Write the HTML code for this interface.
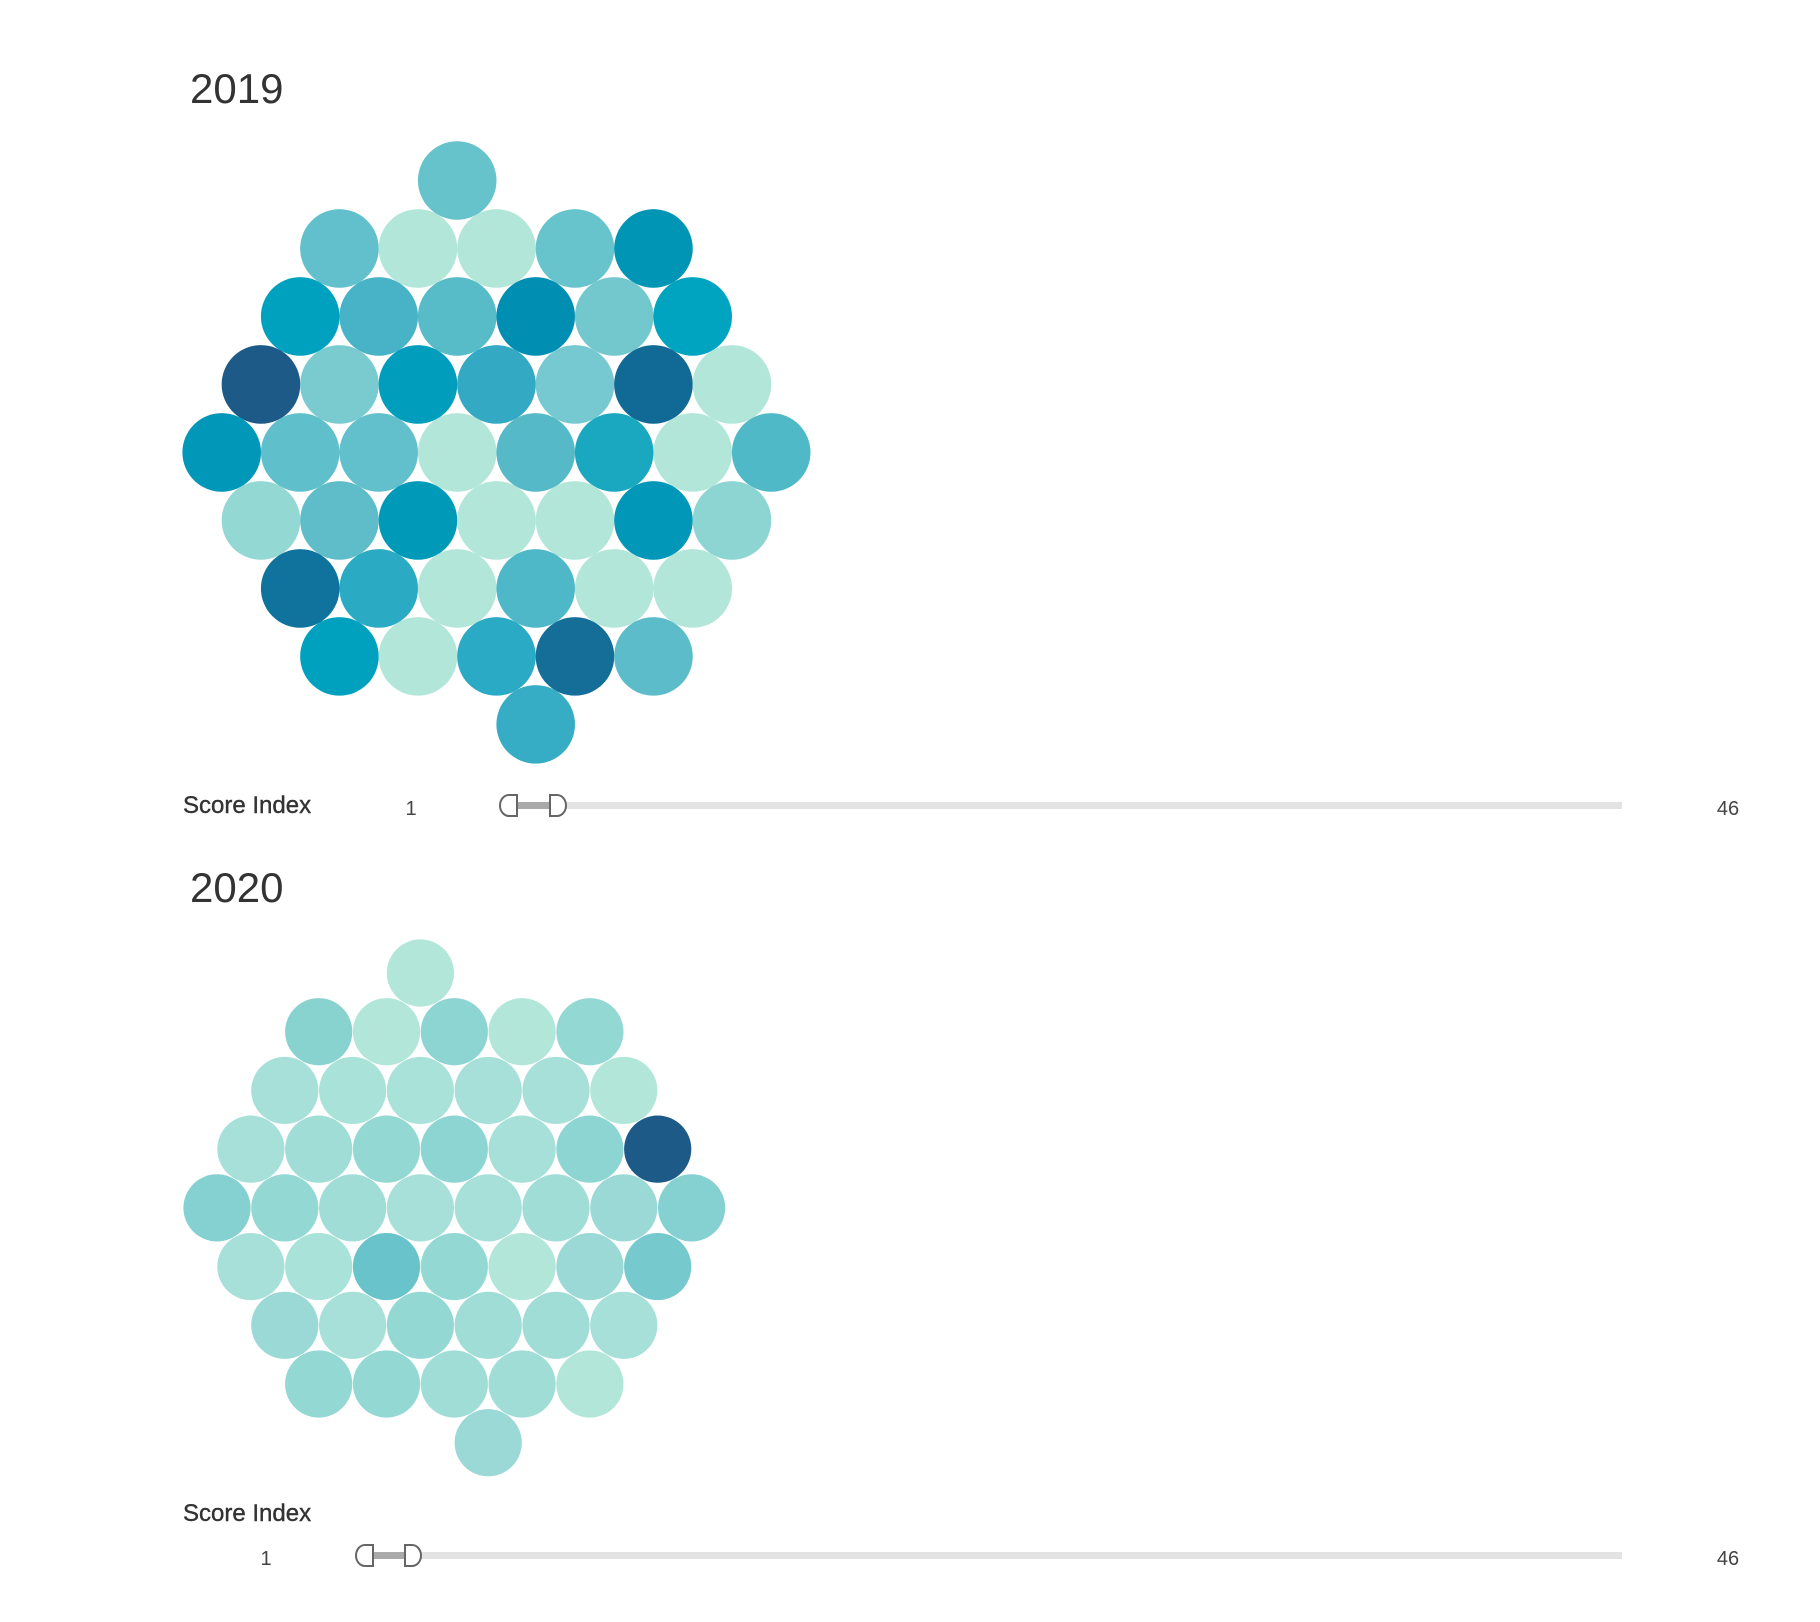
<!DOCTYPE html>
<html><head><meta charset="utf-8"><style>
body{margin:0;background:#fff;width:1820px;height:1622px;overflow:hidden;font-family:"Liberation Sans",sans-serif;}
svg{position:absolute;left:0;top:0}
</style></head><body>
<svg id="chart" width="1820" height="1622">
<text x="190" y="103" font-size="42" fill="#333">2019</text>
<text x="190" y="902" font-size="42" fill="#333">2020</text>
<g id="p2019"></g>
<g id="p2020"></g>
<text x="183" y="813" font-size="24" fill="#333" stroke="#333" stroke-width="0.4">Score Index</text>
<text x="411" y="815" font-size="20" fill="#444" text-anchor="middle">1</text>
<text x="1728" y="815" font-size="20" fill="#444" text-anchor="middle">46</text>
<rect x="505" y="802" width="1117" height="7" fill="#e3e3e3"/>
<rect x="515" y="802" width="42" height="7" fill="#aaa"/>
<path d="M517 795 h-8 a9 10.5 0 0 0 0 21 h8 z" fill="#fff" stroke="#666" stroke-width="2"/>
<path d="M550 795 h7 a9 10.5 0 0 1 0 21 h-7 z" fill="#fff" stroke="#666" stroke-width="2"/>
<text x="183" y="1521" font-size="24" fill="#333" stroke="#333" stroke-width="0.4">Score Index</text>
<text x="266" y="1565" font-size="20" fill="#444" text-anchor="middle">1</text>
<text x="1728" y="1565" font-size="20" fill="#444" text-anchor="middle">46</text>
<rect x="362" y="1552" width="1260" height="7" fill="#e3e3e3"/>
<rect x="372" y="1552" width="40" height="7" fill="#aaa"/>
<path d="M373 1545 h-8 a9 10.5 0 0 0 0 21 h8 z" fill="#fff" stroke="#666" stroke-width="2"/>
<path d="M405 1545 h7 a9 10.5 0 0 1 0 21 h-7 z" fill="#fff" stroke="#666" stroke-width="2"/>
</svg>
<script>
// row sizes of the hex layout and per-row start offset (half-steps)
const rowCounts = [1,5,6,7,8,7,6,5,1];
const rowStarts = [6,3,2,1,0,1,2,3,8];
// colour per bubble (score), row by row
const colors2019 = [
 "#66c3cb",
 "#62bfcc","#b2e6d9","#b2e6d9","#68c4cc","#0095b5",
 "#00a0bf","#48b3c7","#57bbc8","#008fb2","#72c8cc","#00a3c0",
 "#1d5a88","#7acbd0","#009dbd","#33a9c4","#76c9d0","#116996","#b2e6d9",
 "#0097b8","#5fbfcb","#62c0cc","#b2e6d9","#56b9c8","#1aa8c0","#b2e6d9","#50b9c8",
 "#94d8d4","#5fbdc9","#009ab9","#b2e6d9","#b2e6d9","#0097b8","#8dd5d3",
 "#0f739d","#2aaac3","#b2e6d9","#4fb8c8","#b2e6d9","#b2e6d9",
 "#00a1bf","#b2e6d9","#2aaac4","#146e98","#5cbcca",
 "#36adc4"];
const colors2020 = [
 "#b2e6d9",
 "#88d3d0","#b2e6d9","#8dd5d2","#b2e6d9","#94d8d4",
 "#a6e0d8","#a9e2d8","#a9e2d8","#a6e0d8","#a6e0d8","#b2e6d9",
 "#a6e0d8","#a0ddd6","#94d8d4","#8dd5d2","#a6e0d8","#8dd5d2","#1d5a88",
 "#85d0d0","#94d8d4","#a0ddd6","#a6e0d8","#a6e0d8","#a0ddd6","#9ad9d5","#85d0d0",
 "#a6e0d8","#a9e2d8","#68c3cb","#94d8d4","#b2e6d9","#9ad9d5","#76c9cc",
 "#9ad9d5","#a6e0d8","#94d8d4","#a0ddd6","#a0ddd6","#a6e0d8",
 "#94d8d4","#94d8d4","#a0ddd6","#a0ddd6","#b2e6d9",
 "#9ad9d5"];
function draw(gid, colors, x0, y0, dx, r, name){
  const g=document.getElementById(gid), ns="http://www.w3.org/2000/svg";
  const dy=dx*Math.sqrt(3)/2; let k=0;
  rowCounts.forEach((n,ri)=>{
    for(let c=0;c<n;c++){
      const el=document.createElementNS(ns,"circle");
      el.setAttribute("cx", x0+(rowStarts[ri]/2+c)*dx);
      el.setAttribute("cy", y0+ri*dy);
      el.setAttribute("r", r);
      el.setAttribute("fill", colors[k]);
      
      
      g.appendChild(el); k++;
    }
  });
}
draw("p2019", colors2019, 221.7, 180.5, 78.5, 39.3, "y2019");
draw("p2020", colors2020, 217, 973, 67.8, 33.6, "y2020");
</script>
</body></html>
